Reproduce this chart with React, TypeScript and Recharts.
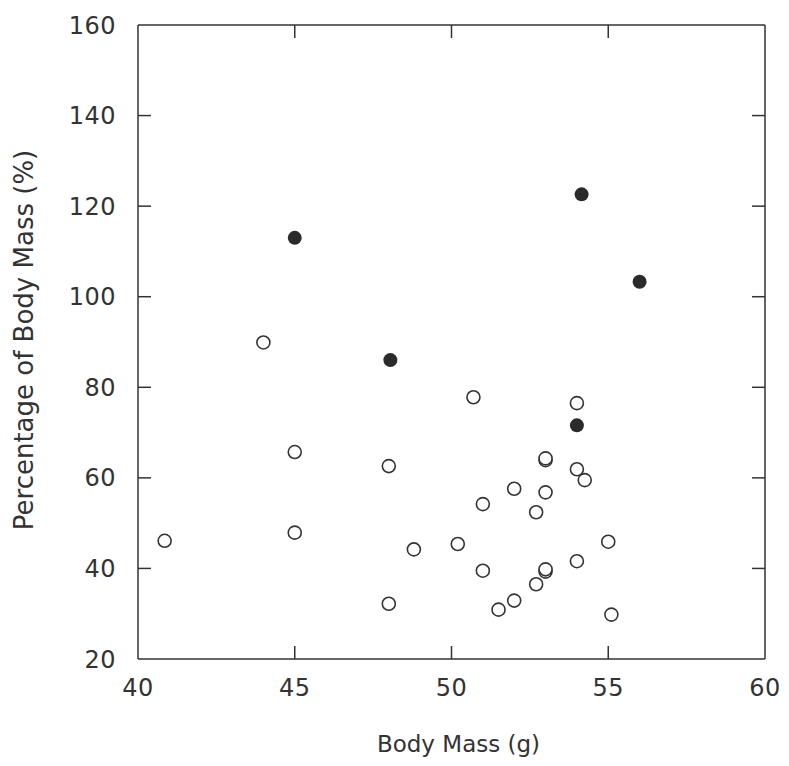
import { ScatterChart, Scatter, XAxis, YAxis, Label, ReferenceLine } from 'recharts'

const massTicks = [40, 45, 50, 55, 60]
const pctTicks = [20, 40, 60, 80, 100, 120, 140, 160]

// open circles
const openMass = [40.85, 44.0, 45.0, 45.0, 48.0, 48.0, 48.8, 50.2, 50.7, 51.0, 51.0, 51.5, 52.0, 52.0, 52.7, 52.7, 53.0, 53.0, 53.0, 53.0, 53.0, 54.0, 54.0, 54.0, 54.25, 55.0, 55.1]
const openPct = [46.1, 89.9, 65.7, 47.9, 62.6, 32.2, 44.2, 45.4, 77.8, 54.2, 39.5, 30.9, 57.6, 32.9, 52.4, 36.5, 63.9, 64.3, 56.8, 39.3, 39.8, 76.5, 61.9, 41.6, 59.5, 45.9, 29.8]

// filled circles
const solidMass = [45.0, 48.05, 54.0, 54.15, 56.0]
const solidPct = [113.0, 86.0, 71.6, 122.6, 103.3]

const openData = openMass.map((m, i) => ({ mass: m, pct: openPct[i] }))
const solidData = solidMass.map((m, i) => ({ mass: m, pct: solidPct[i] }))

const ink = '#333'
const font = '"DejaVu Sans", sans-serif'

const W = 781
const H = 750
const MARGIN = { top: 16, right: 23, bottom: 0, left: 0 }
const Y_AXIS_W = 130
const X_AXIS_H = 99
const TICK_LEN = 13

const xMin = massTicks[0]
const xMax = massTicks[massTicks.length - 1]
const yMin = pctTicks[0]
const yMax = pctTicks[pctTicks.length - 1]

// inward tick marks, length converted from pixels to data units
const plotW = W - MARGIN.left - MARGIN.right - Y_AXIS_W - 1
const plotH = H - MARGIN.top - MARGIN.bottom - X_AXIS_H - 1
const tickDx = (TICK_LEN * (xMax - xMin)) / plotW
const tickDy = (TICK_LEN * (yMax - yMin)) / plotH
const innerMass = massTicks.slice(1, -1)
const innerPct = pctTicks.slice(1, -1)

const OpenDot = (props: any) => (
    <circle cx={props.cx} cy={props.cy} r={6.5} fill="#fff" stroke={ink} strokeWidth={1.6} />
)

const SolidDot = (props: any) => (
    <circle cx={props.cx} cy={props.cy} r={7} fill="#2b2b2b" />
)

const lineStyle = { stroke: ink, strokeWidth: 1.5 }
const tickStyle = { fontSize: 24, fill: ink, fontFamily: font, letterSpacing: 0.5 }

const App = () => {
    return (
        <ScatterChart width={W} height={H} margin={MARGIN} style={{ fontFamily: font }}>
            <XAxis
                dataKey="mass"
                type="number"
                domain={[xMin, xMax]}
                ticks={massTicks}
                interval={0}
                allowDataOverflow
                height={X_AXIS_H}
                tickSize={0}
                tickMargin={20}
                tick={tickStyle}
                axisLine={lineStyle}
                tickLine={false}
            >
                <Label
                    content={({ viewBox }: any) => (
                        <text
                            x={viewBox.x + viewBox.width / 2 + 7}
                            y={viewBox.y + 93}
                            textAnchor="middle"
                            fontSize={23}
                            fill={ink}
                            fontFamily={font}
                        >
                            Body Mass (g)
                        </text>
                    )}
                />
            </XAxis>
            <XAxis
                xAxisId="top"
                orientation="top"
                type="number"
                domain={[xMin, xMax]}
                allowDataOverflow
                height={1}
                tick={false}
                tickLine={false}
                axisLine={lineStyle}
            />
            <YAxis
                dataKey="pct"
                type="number"
                domain={[yMin, yMax]}
                ticks={pctTicks}
                interval={0}
                allowDataOverflow
                width={Y_AXIS_W}
                tickSize={0}
                tickMargin={22}
                tick={tickStyle}
                axisLine={lineStyle}
                tickLine={false}
            >
                <Label
                    content={({ viewBox }: any) => {
                        const cx = viewBox.x + 25
                        const cy = viewBox.y + viewBox.height / 2 - 2
                        return (
                            <text
                                x={cx}
                                y={cy}
                                transform={`rotate(-90 ${cx} ${cy})`}
                                textAnchor="middle"
                                fontSize={26}
                                fill={ink}
                                fontFamily={font}
                            >
                                Percentage of Body Mass (%)
                            </text>
                        )
                    }}
                />
            </YAxis>
            <YAxis
                yAxisId="right"
                orientation="right"
                type="number"
                domain={[yMin, yMax]}
                allowDataOverflow
                width={1}
                tick={false}
                tickLine={false}
                axisLine={lineStyle}
            />
            {innerMass.map((m) => (
                <ReferenceLine key={`b${m}`} segment={[{ x: m, y: yMin }, { x: m, y: yMin + tickDy }]} {...lineStyle} />
            ))}
            {innerMass.map((m) => (
                <ReferenceLine key={`t${m}`} segment={[{ x: m, y: yMax }, { x: m, y: yMax - tickDy }]} {...lineStyle} />
            ))}
            {innerPct.map((p) => (
                <ReferenceLine key={`l${p}`} segment={[{ x: xMin, y: p }, { x: xMin + tickDx, y: p }]} {...lineStyle} />
            ))}
            {innerPct.map((p) => (
                <ReferenceLine key={`r${p}`} segment={[{ x: xMax, y: p }, { x: xMax - tickDx, y: p }]} {...lineStyle} />
            ))}
            <Scatter data={openData} shape={OpenDot} isAnimationActive={false} />
            <Scatter data={solidData} shape={SolidDot} isAnimationActive={false} />
        </ScatterChart>
    )
}

export default App
